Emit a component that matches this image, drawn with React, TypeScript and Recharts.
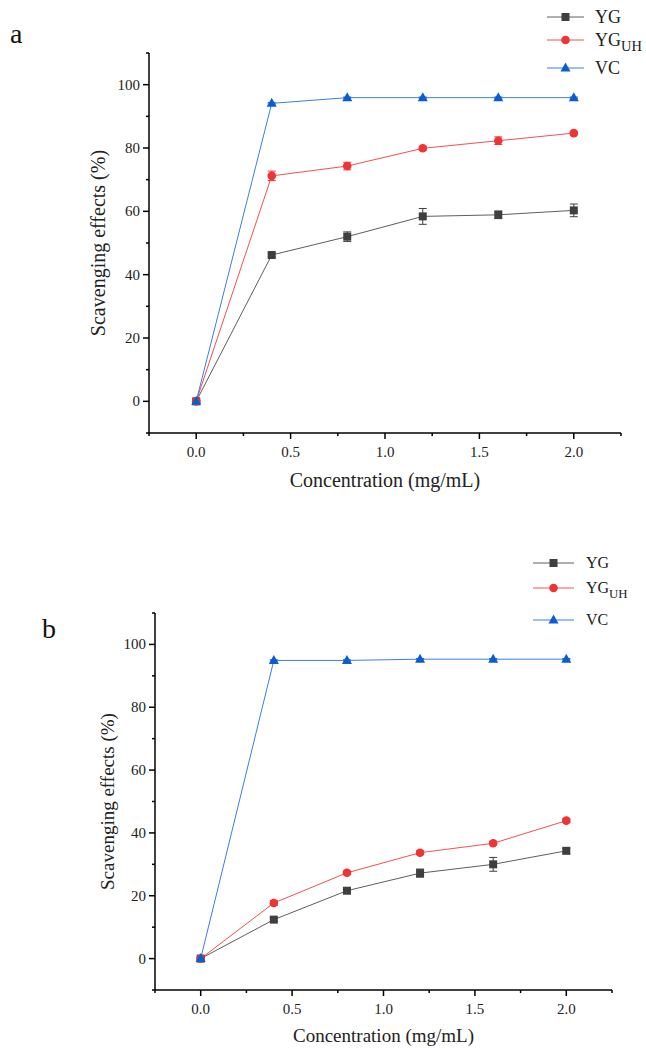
import React from "react";
import { LineChart, Line, XAxis, YAxis, ErrorBar, Legend } from "recharts";

const concentrations = [0, 0.4, 0.8, 1.2, 1.6, 2.0];

// panel a
const ygA = [0, 46.2, 52.0, 58.4, 58.9, 60.3];
const ygAErr = [0.4, 0.6, 1.5, 2.5, 1.2, 2.0];
const ygUhA = [0, 71.2, 74.3, 79.9, 82.3, 84.7];
const ygUhAErr = [0.4, 1.5, 1.2, 0.6, 1.2, 0.6];
const vcA = [0, 94.1, 95.9, 95.9, 95.9, 95.9];
const vcAErr = [0.2, 0.2, 0.2, 0.2, 0.2, 0.2];

// panel b
const ygB = [0, 12.4, 21.6, 27.2, 30.0, 34.3];
const ygBErr = [0.4, 0.6, 0.6, 1.3, 2.2, 0.8];
const ygUhB = [0, 17.7, 27.3, 33.7, 36.7, 43.9];
const ygUhBErr = [0.4, 0.8, 0.6, 0.6, 0.5, 0.6];
const vcB = [0, 94.9, 94.9, 95.3, 95.3, 95.3];
const vcBErr = [0.2, 0.2, 0.2, 0.2, 0.2, 0.2];

const yTicks = [-10, 0, 10, 20, 30, 40, 50, 60, 70, 80, 90, 100, 110];
const yMajor = [0, 20, 40, 60, 80, 100];
const xTicks = [-0.25, 0, 0.25, 0.5, 0.75, 1, 1.25, 1.5, 1.75, 2, 2.25];
const xMajor = [0, 0.5, 1, 1.5, 2];

const FONT = '"Liberation Serif", "Times New Roman", serif';
const YG_LINE = "#5e5e5e";
const YG_DOT = "#3f3f3f";
const UH_LINE = "#f45050";
const UH_DOT = "#ef3434";
const VC_LINE = "#3b7fe0";
const VC_DOT = "#0b5cd3";

const YTick = (p: any) => {
  const { x, y, payload } = p;
  const major = yMajor.includes(payload.value);
  return (
    <g>
      <line x1={x} x2={x - (major ? 6 : 3)} y1={y} y2={y} stroke="#000" strokeWidth={1.5} />
      {major && (
        <text x={x - 9} y={y} dy={5} textAnchor="end" fontSize={15} fontFamily={FONT} fill="#222">
          {payload.value}
        </text>
      )}
    </g>
  );
};

const XTick = (p: any) => {
  const { x, y, payload } = p;
  const major = xMajor.includes(payload.value);
  return (
    <g>
      <line x1={x} x2={x} y1={y} y2={y + (major ? 6 : 3)} stroke="#000" strokeWidth={1.5} />
      {major && (
        <text x={x} y={y + 24} textAnchor="middle" fontSize={15} fontFamily={FONT} fill="#222">
          {payload.value.toFixed(1)}
        </text>
      )}
    </g>
  );
};

const squareDot = (p: any) => (
  <rect key={`sq${p.index}`} x={p.cx - 4} y={p.cy - 4} width={8} height={8} fill={YG_DOT} />
);
const circleDot = (p: any) => <circle key={`ci${p.index}`} cx={p.cx} cy={p.cy} r={4.3} fill={UH_DOT} />;
const triDot = (p: any) => (
  <polygon
    key={`tr${p.index}`}
    points={`${p.cx},${p.cy - 5.5} ${p.cx - 5},${p.cy + 3.5} ${p.cx + 5},${p.cy + 3.5}`}
    fill={VC_DOT}
  />
);

function LegendBox({ rows, lineX, textX, fontSize }: { rows: number[]; lineX: [number, number]; textX: number; fontSize: number }) {
  const mid = (lineX[0] + lineX[1]) / 2;
  const [r1, r2, r3] = rows;
  return (
    <svg width={110} height={110} style={{ display: "block", overflow: "visible" }}>
      <line x1={lineX[0]} x2={lineX[1]} y1={r1} y2={r1} stroke={YG_LINE} strokeWidth={1} />
      <rect x={mid - 4} y={r1 - 4} width={8} height={8} fill={YG_DOT} />
      <text x={textX} y={r1 + fontSize * 0.33} fontSize={fontSize} fontFamily={FONT} fill="#222">YG</text>
      <line x1={lineX[0]} x2={lineX[1]} y1={r2} y2={r2} stroke={UH_LINE} strokeWidth={1} />
      <circle cx={mid} cy={r2} r={4.3} fill={UH_DOT} />
      <text x={textX} y={r2 + fontSize * 0.33} fontSize={fontSize} fontFamily={FONT} fill="#222">
        YG
        <tspan dy={fontSize * 0.3} fontSize={fontSize * 0.8}>UH</tspan>
      </text>
      <line x1={lineX[0]} x2={lineX[1]} y1={r3} y2={r3} stroke={VC_LINE} strokeWidth={1} />
      <polygon points={`${mid},${r3 - 5.5} ${mid - 5},${r3 + 3.5} ${mid + 5},${r3 + 3.5}`} fill={VC_DOT} />
      <text x={textX} y={r3 + fontSize * 0.33} fontSize={fontSize} fontFamily={FONT} fill="#222">VC</text>
    </svg>
  );
}

type PanelProps = {
  height: number;
  margin: { top: number; right: number; left: number; bottom: number };
  yAxisWidth: number;
  labelSize: number;
  xLabelOffset: number;
  yg: number[];
  ygErr: number[];
  uh: number[];
  uhErr: number[];
  vc: number[];
  vcErr: number[];
  legendPos: { left: number; top: number };
  legendRows: number[];
  legendLine: [number, number];
  legendText: number;
  legendFont: number;
};

function Panel(props: PanelProps) {
  const data = concentrations.map((c, i) => ({
    conc: c,
    yg: props.yg[i],
    ygErr: props.ygErr[i],
    uh: props.uh[i],
    uhErr: props.uhErr[i],
    vc: props.vc[i],
    vcErr: props.vcErr[i],
  }));

  return (
    <LineChart width={646} height={props.height} data={data} margin={props.margin}>
      <XAxis
        dataKey="conc"
        type="number"
        domain={[-0.25, 2.25]}
        ticks={xTicks}
        interval={0}
        height={30}
        tickSize={0}
        tickMargin={0}
        tickLine={false}
        axisLine={{ stroke: "#000", strokeWidth: 1.5 }}
        tick={XTick}
        label={{
          value: "Concentration (mg/mL)",
          position: "bottom",
          offset: props.xLabelOffset,
          fontSize: props.labelSize,
          fontFamily: FONT,
          fill: "#222",
        }}
      />
      <YAxis
        type="number"
        domain={[-10, 110]}
        ticks={yTicks}
        interval={0}
        width={props.yAxisWidth}
        tickSize={0}
        tickMargin={0}
        tickLine={false}
        axisLine={{ stroke: "#000", strokeWidth: 1.5 }}
        tick={YTick}
        label={{
          value: "Scavenging effects (%)",
          angle: -90,
          position: "center",
          fontSize: props.labelSize,
          fontFamily: FONT,
          fill: "#222",
        }}
      />
      <Legend
        layout="vertical"
        align="center"
        verticalAlign="middle"
        wrapperStyle={{ left: props.legendPos.left, top: props.legendPos.top, width: 110, height: 110 }}
        content={() => (
          <LegendBox
            rows={props.legendRows}
            lineX={props.legendLine}
            textX={props.legendText}
            fontSize={props.legendFont}
          />
        )}
      />
      <Line type="linear" dataKey="yg" stroke={YG_LINE} strokeWidth={1} dot={squareDot} activeDot={false} isAnimationActive={false}>
        <ErrorBar dataKey="ygErr" width={4} stroke={YG_DOT} strokeWidth={1} direction="y" />
      </Line>
      <Line type="linear" dataKey="uh" stroke={UH_LINE} strokeWidth={1} dot={circleDot} activeDot={false} isAnimationActive={false}>
        <ErrorBar dataKey="uhErr" width={4} stroke={UH_DOT} strokeWidth={1} direction="y" />
      </Line>
      <Line type="linear" dataKey="vc" stroke={VC_LINE} strokeWidth={1} dot={triDot} activeDot={false} isAnimationActive={false}>
        <ErrorBar dataKey="vcErr" width={4} stroke={VC_DOT} strokeWidth={1} direction="y" />
      </Line>
    </LineChart>
  );
}

const letterStyle: React.CSSProperties = {
  position: "absolute",
  fontFamily: FONT,
  fontSize: 28,
  lineHeight: 1,
  color: "#111",
};

export default function App() {
  return (
    <div style={{ position: "absolute", left: 0, top: 0, width: 646, height: 1048, background: "#fff", overflow: "hidden" }}>
      <div style={{ position: "absolute", left: 0, top: 0 }}>
        <Panel
          height={520}
          margin={{ top: 53, right: 25, left: 46, bottom: 57 }}
          yAxisWidth={103}
          labelSize={20}
          xLabelOffset={10}
          yg={ygA}
          ygErr={ygAErr}
          uh={ygUhA}
          uhErr={ygUhAErr}
          vc={vcA}
          vcErr={vcAErr}
          legendPos={{ left: 540, top: 0 }}
          legendRows={[17, 40, 68]}
          legendLine={[7, 44]}
          legendText={55}
          legendFont={18}
        />
      </div>
      <div style={{ ...letterStyle, left: 10, top: 20 }}>a</div>
      <div style={{ position: "absolute", left: 0, top: 520 }}>
        <Panel
          height={528}
          margin={{ top: 93, right: 34, left: 60, bottom: 28 }}
          yAxisWidth={95}
          labelSize={19}
          xLabelOffset={9}
          yg={ygB}
          ygErr={ygBErr}
          uh={ygUhB}
          uhErr={ygUhBErr}
          vc={vcB}
          vcErr={vcBErr}
          legendPos={{ left: 526, top: 0 }}
          legendRows={[43, 68, 100]}
          legendLine={[7, 48]}
          legendText={60}
          legendFont={16}
        />
      </div>
      <div style={{ ...letterStyle, left: 42, top: 615 }}>b</div>
    </div>
  );
}
